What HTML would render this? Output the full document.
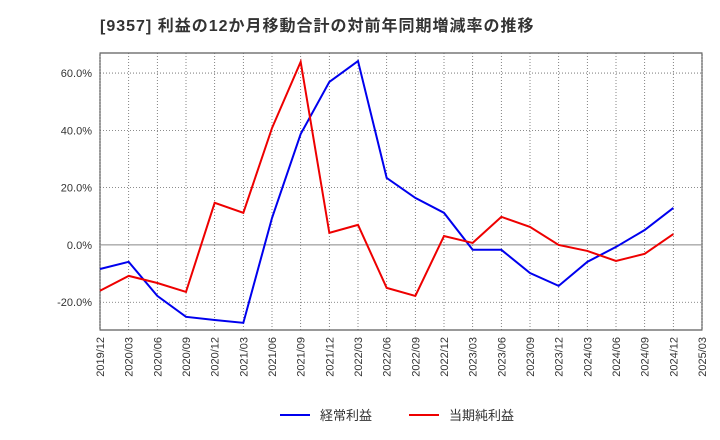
<!DOCTYPE html>
<html><head><meta charset="utf-8"><style>
body{margin:0;background:#fff;}
svg{display:block;font-family:"Liberation Sans","Noto Sans CJK JP",sans-serif;}
</style></head><body>
<svg id="c" width="720" height="440">
<text x="100" y="31" font-size="16" letter-spacing="1" font-weight="bold" fill="#333">[9357]  利益の12か月移動合計の対前年同期増減率の推移</text>
</svg>
<script>
const categories=["2019/12","2020/03","2020/06","2020/09","2020/12","2021/03","2021/06","2021/09","2021/12","2022/03","2022/06","2022/09","2022/12","2023/03","2023/06","2023/09","2023/12","2024/03","2024/06","2024/09","2024/12","2025/03"];
const keijo=[-8.4,-5.9,-17.8,-25.1,-26.2,-27.2,9.4,38.7,56.9,64.2,23.4,16.4,11.2,-1.7,-1.7,-9.8,-14.3,-5.9,-0.7,5.2,12.9];
const junri=[-16.0,-10.8,-13.3,-16.4,14.7,11.2,40.8,63.9,4.2,7.0,-15.0,-17.8,3.1,0.7,9.8,6.3,0.0,-2.1,-5.6,-3.1,3.8];
const yTicks=[-20,0,20,40,60];
const yTickLabels=["-20.0%","0.0%","20.0%","40.0%","60.0%"];
const L=100,R=702,T=53,B=330,yMin=-29.7,yMax=67;
const svg=document.getElementById('c');
const NS='http://www.w3.org/2000/svg';
const x=i=>L+(R-L)*i/(categories.length-1);
const y=v=>B-(v-yMin)/(yMax-yMin)*(B-T);
function mk(t,a){const e=document.createElementNS(NS,t);for(const k in a)e.setAttribute(k,a[k]);svg.appendChild(e);return e;}
let e=mk('rect',{x:L,y:T,width:R-L,height:B-T,fill:'#fff',stroke:'#333','stroke-width':1});


categories.forEach((c,i)=>{
 const g=mk('line',{x1:x(i),x2:x(i),y1:T,y2:B,stroke:'#666','stroke-width':0.8,'stroke-dasharray':'1,2'});
 
 
 const t=mk('text',{x:0,y:0,'font-size':11,fill:'#333','text-anchor':'end',transform:`translate(${x(i)+4},${B+7}) rotate(-90)`});
 t.textContent=c;
 
 
});
yTicks.forEach((v,i)=>{
 const g=mk('line',{x1:L,x2:R,y1:y(v),y2:y(v),stroke:v===0?'#888':'#666','stroke-width':v===0?1:0.8,'stroke-dasharray':v===0?'':'1,2'});
 
 
 const t=mk('text',{x:L-8,y:y(v)+4,'font-size':11,fill:'#333','text-anchor':'end'});
 t.textContent=yTickLabels[i];
 
 
});
function line(d,col,name){
 const p=mk('polyline',{points:d.map((v,i)=>x(i)+','+y(v)).join(' '),fill:'none',stroke:col,'stroke-width':2});
 
 
}
line(keijo,'#0000ee','series-keijo-rieki');
line(junri,'#ee0000','series-junrieki');
function leg(x0,col,label,name){
 const l=mk('line',{x1:x0,x2:x0+30,y1:415,y2:415,stroke:col,'stroke-width':2});
 
 
 const t=mk('text',{x:x0+40,y:420,'font-size':13,fill:'#333'});
 t.textContent=label;
 
 
}
leg(280,'#0000ee','経常利益','legend-keijo-rieki');
leg(409,'#ee0000','当期純利益','legend-junrieki');
</script>
</body></html>
